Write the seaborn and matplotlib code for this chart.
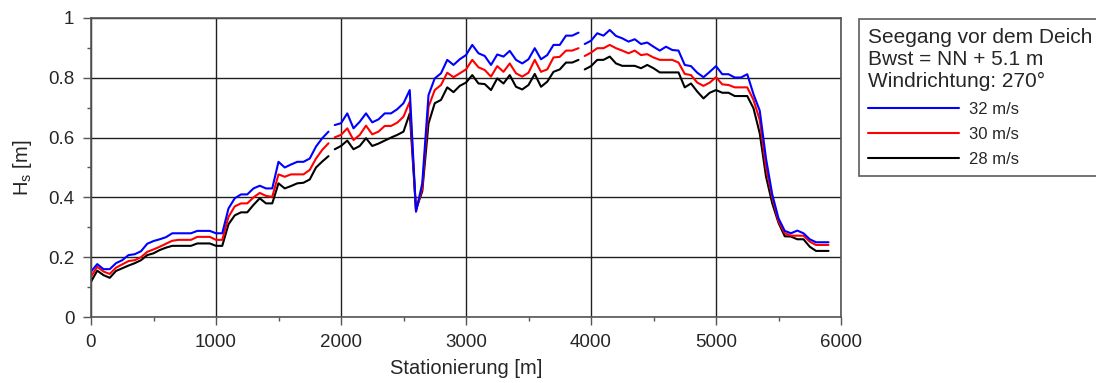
import numpy as np
import pandas as pd
import matplotlib
matplotlib.use('Agg')
import matplotlib.pyplot as plt
import seaborn as sns
from matplotlib.ticker import MultipleLocator, FuncFormatter

# Stationierung [m], drei Abschnitte (Linie ist zwischen den Abschnitten unterbrochen)
stat_a = list(range(0, 1901, 50))
stat_b = list(range(1950, 3901, 50))
stat_c = list(range(3950, 5901, 50))

# Hs [m] fuer 32 m/s
hs32_a = [0.152, 0.177, 0.160, 0.160, 0.180, 0.190, 0.207, 0.210, 0.220, 0.245,
          0.254, 0.260, 0.267, 0.280, 0.280, 0.280, 0.280, 0.288, 0.288, 0.288,
          0.280, 0.280, 0.363, 0.397, 0.410, 0.410, 0.430, 0.439, 0.430, 0.430,
          0.519, 0.500, 0.510, 0.519, 0.519, 0.530, 0.570, 0.598, 0.620]
hs32_b = [0.642, 0.648, 0.681, 0.631, 0.653, 0.681, 0.651, 0.661, 0.681, 0.681,
          0.695, 0.715, 0.759, 0.352, 0.447, 0.742, 0.798, 0.815, 0.860, 0.843,
          0.862, 0.876, 0.910, 0.882, 0.873, 0.843, 0.878, 0.871, 0.890, 0.860,
          0.848, 0.862, 0.899, 0.862, 0.876, 0.910, 0.910, 0.941, 0.941, 0.951]
hs32_c = [0.913, 0.924, 0.949, 0.941, 0.960, 0.940, 0.932, 0.921, 0.929, 0.913,
          0.918, 0.904, 0.891, 0.904, 0.893, 0.891, 0.843, 0.839, 0.817, 0.802,
          0.820, 0.839, 0.812, 0.812, 0.801, 0.801, 0.812, 0.745, 0.690, 0.530,
          0.410, 0.330, 0.288, 0.280, 0.289, 0.280, 0.260, 0.250, 0.250, 0.250]

# Hs [m] fuer 30 m/s
hs30_a = [0.135, 0.168, 0.152, 0.144, 0.165, 0.176, 0.187, 0.190, 0.200, 0.218,
          0.226, 0.235, 0.245, 0.255, 0.258, 0.258, 0.258, 0.268, 0.268, 0.268,
          0.258, 0.258, 0.335, 0.370, 0.380, 0.380, 0.400, 0.415, 0.405, 0.402,
          0.477, 0.469, 0.477, 0.477, 0.477, 0.492, 0.530, 0.559, 0.581]
hs30_b = [0.601, 0.609, 0.631, 0.592, 0.609, 0.640, 0.611, 0.620, 0.639, 0.639,
          0.650, 0.670, 0.720, 0.355, 0.430, 0.703, 0.759, 0.776, 0.817, 0.802,
          0.815, 0.828, 0.860, 0.835, 0.826, 0.804, 0.839, 0.820, 0.848, 0.815,
          0.804, 0.817, 0.860, 0.820, 0.828, 0.868, 0.870, 0.891, 0.891, 0.899]
hs30_c = [0.873, 0.884, 0.899, 0.899, 0.910, 0.899, 0.891, 0.882, 0.891, 0.876,
          0.879, 0.868, 0.860, 0.860, 0.860, 0.851, 0.813, 0.809, 0.784, 0.773,
          0.784, 0.802, 0.778, 0.776, 0.768, 0.768, 0.768, 0.726, 0.659, 0.500,
          0.400, 0.320, 0.280, 0.272, 0.272, 0.272, 0.252, 0.241, 0.241, 0.241]

# Hs [m] fuer 28 m/s
hs28_a = [0.118, 0.155, 0.140, 0.131, 0.154, 0.163, 0.172, 0.180, 0.190, 0.207,
          0.213, 0.224, 0.232, 0.238, 0.238, 0.238, 0.238, 0.246, 0.246, 0.246,
          0.238, 0.238, 0.310, 0.340, 0.350, 0.350, 0.375, 0.397, 0.380, 0.380,
          0.447, 0.430, 0.438, 0.447, 0.449, 0.460, 0.500, 0.520, 0.538]
hs28_b = [0.561, 0.572, 0.590, 0.561, 0.572, 0.598, 0.572, 0.580, 0.590, 0.600,
          0.609, 0.620, 0.681, 0.360, 0.420, 0.647, 0.715, 0.726, 0.768, 0.752,
          0.773, 0.784, 0.809, 0.781, 0.779, 0.759, 0.798, 0.781, 0.809, 0.770,
          0.761, 0.776, 0.813, 0.770, 0.787, 0.820, 0.828, 0.851, 0.851, 0.860]
hs28_c = [0.828, 0.839, 0.860, 0.860, 0.871, 0.848, 0.840, 0.840, 0.840, 0.832,
          0.843, 0.832, 0.818, 0.818, 0.818, 0.818, 0.768, 0.781, 0.754, 0.731,
          0.750, 0.759, 0.750, 0.750, 0.739, 0.739, 0.739, 0.698, 0.614, 0.470,
          0.380, 0.315, 0.270, 0.269, 0.260, 0.260, 0.235, 0.221, 0.221, 0.221]

speeds = ['32 m/s', '30 m/s', '28 m/s']
farben = {'32 m/s': '#0000ff', '30 m/s': '#ff0000', '28 m/s': '#000000'}

# in langes Format bringen
rows = []
reihen = {'32 m/s': [hs32_a, hs32_b, hs32_c],
          '30 m/s': [hs30_a, hs30_b, hs30_c],
          '28 m/s': [hs28_a, hs28_b, hs28_c]}
for sp in speeds:
    for seg, (st, hs) in enumerate(zip([stat_a, stat_b, stat_c], reihen[sp])):
        for x, y in zip(st, hs):
            rows.append({'station': x, 'Hs': y, 'speed': sp, 'segment': seg})
df = pd.DataFrame(rows)

sns.set_style('ticks')
plt.rcParams['font.family'] = ['Liberation Sans', 'DejaVu Sans']

fig = plt.figure(figsize=(10.96, 3.83), dpi=100)
ax = fig.add_axes([91/1096, 1-317/383, 750/1096, 299/383])

# Reihenfolge: schwarz unten, blau oben
for sp in speeds[::-1]:
    sns.lineplot(data=df[df['speed'] == sp], x='station', y='Hs', units='segment',
                 estimator=None, color=farben[sp], lw=1.5, ax=ax, label=sp)

ax.set_xlim(0, 6000)
ax.set_ylim(0, 1)
ax.xaxis.set_major_locator(MultipleLocator(1000))
ax.xaxis.set_minor_locator(MultipleLocator(500))
ax.yaxis.set_major_locator(MultipleLocator(0.2))
ax.yaxis.set_minor_locator(MultipleLocator(0.1))
ax.yaxis.set_major_formatter(FuncFormatter(lambda v, p: f'{v:g}'))
ax.grid(True, which='major', color='#202020', lw=1)
ax.tick_params(which='major', direction='out', length=6, width=1, color='#555555',
               labelsize=13.5, pad=6)
ax.tick_params(which='minor', direction='out', length=3, width=1, color='#555555')
for s in ax.spines.values():
    s.set_color('#555555')
    s.set_linewidth(1.2)

ax.set_xlabel('Stationierung [m]', fontsize=14.5, labelpad=6)
ax.set_ylabel('H$_\\mathregular{s}$ [m]', fontsize=14.5, labelpad=10)

handles, labels = ax.get_legend_handles_labels()
order = [labels.index(s) for s in speeds]
ax.get_legend().remove()
leg = fig.legend([handles[i] for i in order], [labels[i] for i in order],
                 title='Seegang vor dem Deich\nBwst = NN + 5.1 m\nWindrichtung: 270°',
                 loc='upper left', bbox_to_anchor=(859/1096, 1-19/383),
                 borderaxespad=0, fontsize=12, title_fontsize=15, frameon=True,
                 fancybox=False, edgecolor='#333333', handlelength=5.45,
                 handletextpad=0.6, labelspacing=0.62, borderpad=0.55,
                 alignment='left')
leg.get_frame().set_linewidth(1.2)
leg.get_title().set_linespacing(1.2)

fig.savefig('out.png', dpi=100)
